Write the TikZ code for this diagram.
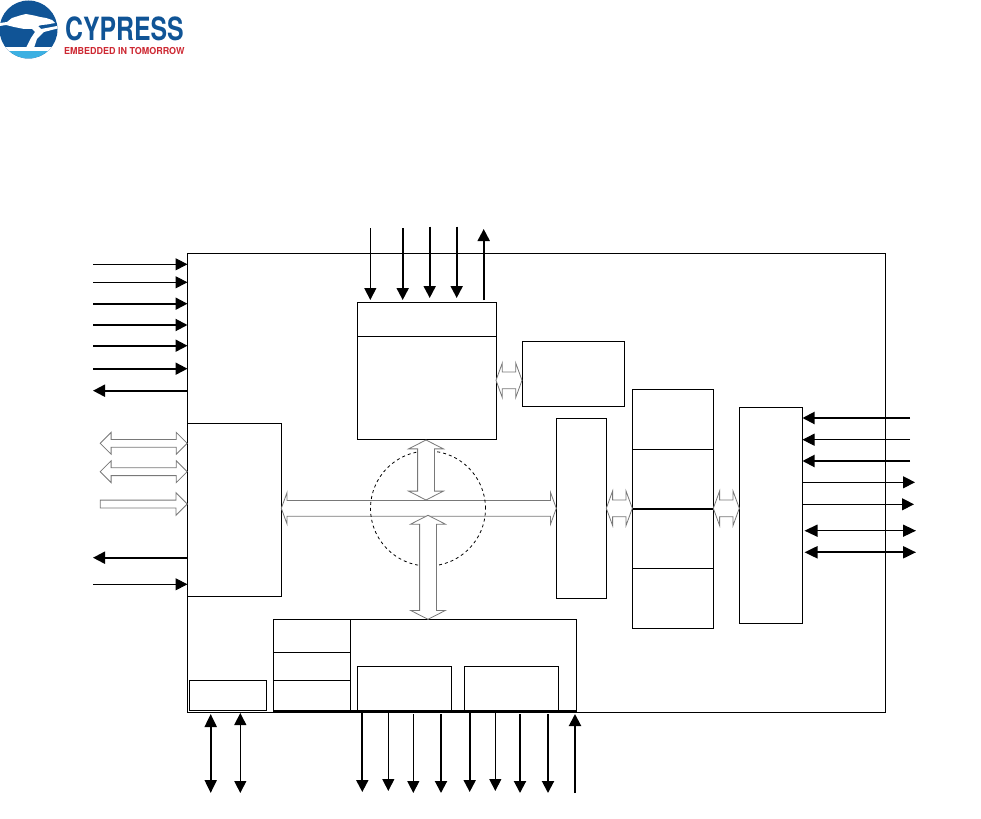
\documentclass[tikz,border=0pt]{standalone}
\usepackage{fontspec}
\setmainfont{TeX Gyre Heros}
\usetikzlibrary{arrows.meta,shapes.arrows}
\definecolor{logoblue}{RGB}{16,84,150}
\definecolor{logosky}{RGB}{60,176,226}
\definecolor{logored}{RGB}{205,40,50}
\definecolor{busgray}{RGB}{120,120,120}
\tikzset{
  sigin/.style={line width=1pt,-{Triangle[length=12pt,width=12pt]}},
  sigfat/.style={line width=2pt,-{Triangle[length=12pt,width=12pt]}},
  sigboth/.style={line width=2pt,{Triangle[length=13pt,width=12pt]}-{Triangle[length=13pt,width=12pt]}},
  blk/.style={draw,line width=1pt,inner sep=0pt,outer sep=0pt,anchor=north west},
  bus/.style={draw=busgray,fill=white,line width=.8pt,double arrow,inner sep=0pt,outer sep=0pt,inner ysep=8pt,
    double arrow head extend=9pt,double arrow tip angle=140},
  smallbus/.style={draw=busgray,fill=white,line width=.8pt,double arrow,inner sep=0pt,outer sep=0pt,inner ysep=3.5pt,
    double arrow head extend=7pt,double arrow tip angle=90},
  onebus/.style={draw=busgray,fill=white,line width=.8pt,single arrow,inner sep=0pt,outer sep=0pt,inner ysep=3.5pt,
    single arrow head extend=7.5pt,single arrow tip angle=90}
}
\begin{document}
\begin{tikzpicture}[x=1pt,y=-1pt]
  \useasboundingbox (0,0) rectangle (981,818);

  % logo
  \begin{scope}
    \clip (28.5,29.5) circle (29);
    \fill[logoblue] (0,0) rectangle (58,60);
    \fill[logosky] (0,51) rectangle (58,60);
    \fill[white] (0,47.5) rectangle (58,51);
    \fill[white] (0,23) -- (7,22) -- (12,18) -- (20,15.5) -- (26,14) -- (34,15.5) -- (40,17) -- (46,18) -- (52,20) -- (55,23)
      -- (47,24.5) -- (42,25) -- (38,26) -- (41,29) -- (57,26) -- (57.5,28.5) -- (44,32) -- (37,39) -- (34,48) -- (26,48)
      -- (31,38) -- (35,32) -- (32,29) -- (24,29) -- (14,27) -- (6,25) -- (0,26) -- cycle;
  \end{scope}
  \node[text=logoblue,font=\bfseries\fontsize{32}{32}\selectfont,inner sep=0pt,anchor=west] (cypress) at (65,28.5) {\scalebox{.775}[1]{CYPRESS}};
  \node[text=logored,font=\bfseries\fontsize{9.6}{10}\selectfont,inner sep=0pt,anchor=west] (embedded) at (64,51.5) {\scalebox{.935}[1]{EMBEDDED IN TOMORROW}};

  % blocks
  \node[blk,minimum width=698pt,minimum height=458.5pt] (chip) at (187.5,253.5) {};
  \node[blk,minimum width=94pt,minimum height=173pt] (gpif) at (187.5,423) {};
  \node[blk,minimum width=138.5pt,minimum height=137pt] (mem) at (357.5,302.5) {};
  \draw[line width=1pt] (357.5,336.5) -- (496,336.5);
  \node[blk,minimum width=102pt,minimum height=65pt] (cpu) at (522.5,341.5) {};
  \node[blk,minimum width=50pt,minimum height=180pt] (dma) at (556.5,418.5) {};
  \node[blk,minimum width=81pt,minimum height=239pt] (stack) at (632.5,389.5) {};
  \draw[line width=1pt] (632.5,449.5) -- (713.5,449.5);
  \draw[line width=2pt] (632.5,508.7) -- (713.5,508.7);
  \draw[line width=1pt] (632.5,568.5) -- (713.5,568.5);
  \node[blk,minimum width=63pt,minimum height=216pt] (phy) at (739.5,407.5) {};
  \node[blk,minimum width=303pt,minimum height=92pt] (serial) at (273.5,619.5) {};
  \draw[line width=1pt] (350.5,619.5) -- (350.5,711.5);
  \draw[line width=1pt] (273.5,652.5) -- (350.5,652.5);
  \draw[line width=1pt] (273.5,680.5) -- (350.5,680.5);
  \draw[line width=2pt] (273.5,711) -- (576.5,711);
  \node[blk,minimum width=93.5pt,minimum height=45pt] (spi) at (357.5,666.5) {};
  \node[blk,minimum width=93.5pt,minimum height=45pt] (uart) at (464.5,666.5) {};
  \node[blk,minimum width=76.5pt,minimum height=30pt] (jtag) at (189.5,680.5) {};

  % hollow buses
  \node[bus,minimum height=275pt,inner ysep=7.5pt,double arrow head extend=8pt] (bushub) at (418.8,508.3) {};
  \node[draw,dashed,circle,line width=.8pt,inner sep=0pt,outer sep=0pt,minimum size=115pt] (hub) at (428,508.5) {};
  \node[bus,rotate=90,minimum height=60pt,double arrow tip angle=126] (busmem) at (426,470) {};
  \node[bus,rotate=90,minimum height=104pt,double arrow tip angle=126] (busser) at (428,567.3) {};
  \node[bus,minimum height=26pt] (buscpu) at (509,380.3) {};
  \node[bus,minimum height=26pt] (busdma) at (619.3,508.3) {};
  \node[bus,minimum height=26pt] (busphy) at (726.3,508.3) {};
  \node[smallbus,minimum height=87pt] (busio) at (143.7,443.3) {};
  \node[smallbus,minimum height=87pt] (busct) at (143.7,471.7) {};
  \node[onebus,minimum height=87pt,anchor=tip] (busdq) at (187.3,504) {};

  % left signals
  \coordinate (l1) at (93,264.3);
  \coordinate (l2) at (93,282.3);
  \coordinate (l3) at (93,303.7);
  \coordinate (l4) at (93,325);
  \coordinate (l5) at (93,345.7);
  \coordinate (l6) at (93,368.7);
  \coordinate (l7) at (93,390.7);
  \coordinate (l8) at (93,557.7);
  \coordinate (l9) at (93,584.3);
  \draw[sigin] (l1) -- (l1 -| chip.west);
  \draw[sigin] (l2) -- (l2 -| chip.west);
  \draw[sigfat] (l3) -- (l3 -| chip.west);
  \draw[sigfat] (l4) -- (l4 -| chip.west);
  \draw[sigfat] (l5) -- (l5 -| chip.west);
  \draw[sigfat] (l6) -- (l6 -| chip.west);
  \draw[sigfat] (l7 -| chip.west) -- (l7);
  \draw[sigfat] (l8 -| chip.west) -- (l8);
  \draw[sigin] (l9) -- (l9 -| chip.west);

  % top signals
  \coordinate (t1) at (370.3,228);
  \coordinate (t2) at (402.7,228);
  \coordinate (t3) at (429.7,226.5);
  \coordinate (t4) at (456.7,226.5);
  \coordinate (t5) at (483.7,229);
  \coordinate (tb) at (357.5,300);
  \draw[sigin] (t1) -- (t1 |- tb);
  \draw[sigfat] (t2) -- (t2 |- tb);
  \draw[sigfat] (t3) -- ++(0,71.5);
  \draw[sigfat] (t4) -- ++(0,71.5);
  \draw[sigfat] (t5 |- tb) -- (t5);

  % right signals
  \coordinate (r1) at (910,418);
  \coordinate (r2) at (910,439.7);
  \coordinate (r3) at (910,461);
  \coordinate (r4) at (915,482.3);
  \coordinate (r5) at (914,504.3);
  \coordinate (r6) at (916,530.7);
  \coordinate (r7) at (916,552.3);
  \draw[sigfat] (r1) -- (r1 -| phy.east);
  \draw[sigin] (r2) -- (r2 -| phy.east);
  \draw[sigfat] (r3) -- (r3 -| phy.east);
  \draw[sigin] (r4 -| phy.east) -- (r4);
  \draw[sigin] (r5 -| phy.east) -- (r5);
  \draw[sigboth,line width=1.5pt] ([xshift=2pt]r6 -| phy.east) -- (r6);
  \draw[sigboth] ([xshift=2pt]r7 -| phy.east) -- (r7);

  % bottom signals
  \coordinate (b1) at (210.7,793);
  \coordinate (b2) at (240.3,793);
  \coordinate (b3) at (362.3,792);
  \coordinate (b4) at (388.3,791);
  \coordinate (b5) at (413.3,793);
  \coordinate (b6) at (441,793);
  \coordinate (b7) at (469.7,792);
  \coordinate (b8) at (495.3,791);
  \coordinate (b9) at (520,793);
  \coordinate (b10) at (548,793);
  \coordinate (b11) at (575,793);
  \coordinate (bt) at (187.5,714);
  \draw[sigboth] (b1 |- bt) -- (b1);
  \draw[sigin,{Triangle[length=12pt,width=12pt]}-{Triangle[length=12pt,width=12pt]}] (b2) ++(0,-80) -- (b2);
  \draw[sigfat] (b3 |- chip.south) -- (b3);
  \draw[sigin] (b4 |- chip.south) -- (b4);
  \draw[sigin] (b5 |- bt) -- (b5);
  \draw[sigfat] (b6 |- bt) -- (b6);
  \draw[sigfat] (b7 |- chip.south) -- (b7);
  \draw[sigin] (b8 |- chip.south) -- (b8);
  \draw[sigfat] (b9 |- bt) -- (b9);
  \draw[sigfat] (b10 |- bt) -- (b10);
  \draw[sigfat] (b11) -- (b11 |- bt);
\end{tikzpicture}
\end{document}
